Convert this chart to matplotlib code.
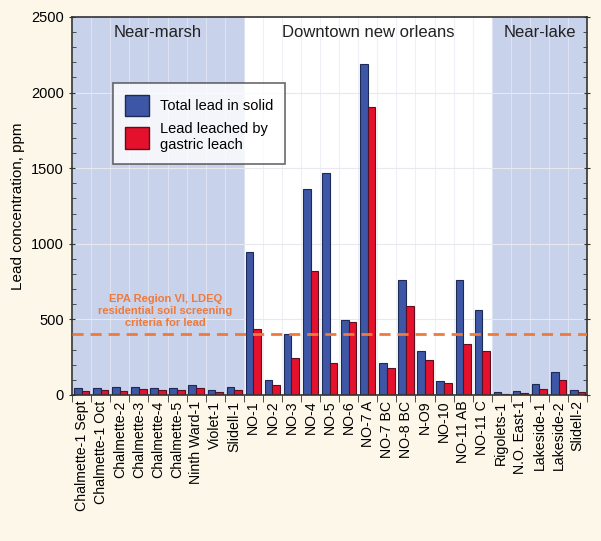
import numpy as np
import matplotlib.pyplot as plt
from matplotlib.patches import Patch

plt.rcParams['font.family'] = ['Liberation Sans', 'DejaVu Sans']

sites = ['Chalmette-1 Sept', 'Chalmette-1 Oct', 'Chalmette-2', 'Chalmette-3',
         'Chalmette-4', 'Chalmette-5', 'Ninth Ward-1', 'Violet-1', 'Slidell-1',
         'NO-1', 'NO-2', 'NO-3', 'NO-4', 'NO-5', 'NO-6', 'NO-7 A', 'NO-7 BC',
         'NO-8 BC', 'N-O9', 'NO-10', 'NO-11 AB', 'NO-11 C',
         'Rigolets-1', 'N.O. East-1', 'Lakeside-1', 'Lakeside-2', 'Slidell-2']
total = [45, 45, 55, 55, 45, 45, 65, 35, 55,
         943, 101, 403, 1360, 1470, 498, 2190, 212, 763, 293, 95, 763, 564,
         22, 29, 75, 152, 35]
leached = [25, 35, 25, 38, 35, 30, 48, 18, 35,
           438, 68, 242, 822, 212, 483, 1905, 179, 586, 233, 81, 337, 293,
           9, 15, 40, 99, 20]
zones = ['Near-marsh', 'Downtown new orleans', 'Near-lake']
zone_sizes = [9, 13, 5]
epa_limit = 400

fig = plt.figure(figsize=(6.01, 5.41), dpi=100, facecolor='#fcf7e8')
ax = fig.add_axes([0.12, 0.27, 0.857, 0.6986])

x = np.arange(len(sites))
w = 0.4
blue = '#3d57a6'
red = '#e5102c'

# shaded zones
n1 = zone_sizes[0]
n2 = n1 + zone_sizes[1]
ax.axvspan(-0.5, n1 - 0.5, color='#c8d2ea', zorder=0, lw=0)
ax.axvspan(n2 - 0.5, len(sites) - 0.5, color='#c8d2ea', zorder=0, lw=0)
for b in np.arange(-0.5, len(sites), 1.0):
    c = '#eef0f6' if n1 - 0.5 < b < n2 - 0.5 else '#dde3f2'
    ax.axvline(b, color=c, lw=0.8, zorder=0.5)
for yv in range(500, 2500, 500):
    ax.axhline(yv, color='#e8e8ee', lw=0.8, zorder=0.5)

ax.bar(x - w / 2, total, w, color=blue, edgecolor='#1c2a55', lw=0.8, zorder=2)
ax.bar(x + w / 2, leached, w, color=red, edgecolor='#5a1020', lw=0.8, zorder=2)

ax.axhline(epa_limit, color='#ee7a3c', lw=2, ls=(0, (4, 2.5)), zorder=3)
ax.text(4.4, 555, 'EPA Region VI, LDEQ\nresidential soil screening\ncriteria for lead',
        ha='center', va='center', color='#ee7a3c', fontsize=8, fontweight='bold',
        linespacing=1.3, zorder=3)

centers = [(n1 - 1) / 2, (n1 + n2 - 1) / 2, (n2 + len(sites) - 1) / 2]
for cx, z in zip(centers, zones):
    ax.text(cx, 2395, z, ha='center', va='center', fontsize=12, color='#222222')

ax.set_xlim(-0.5, len(sites) - 0.5)
ax.set_ylim(0, 2500)
ax.set_xticks(x)
ax.set_xticklabels(sites, rotation=90, fontsize=10.2)
ax.set_xticks(np.arange(-0.5, len(sites), 1.0), minor=True)
ax.tick_params(axis='x', which='major', length=0, pad=4)
ax.tick_params(axis='x', which='minor', length=5, direction='out', color='#333333')
ax.set_yticks(range(0, 2501, 500))
ax.set_yticks(range(0, 2501, 100), minor=True)
ax.tick_params(axis='y', which='major', length=5, direction='inout', labelsize=10.5,
               right=True, color='#333333')
ax.tick_params(axis='y', which='minor', length=3, direction='in', right=True,
               color='#333333')
ax.set_ylabel('Lead concentration, ppm', fontsize=11)
for s in ax.spines.values():
    s.set_color('#333333')
    s.set_linewidth(1.2)

handles = [Patch(facecolor=blue, edgecolor='#1c2a55'),
           Patch(facecolor=red, edgecolor='#5a1020')]
leg = ax.legend(handles, ['Total lead in solid', 'Lead leached by\ngastric leach'],
                loc='upper left', bbox_to_anchor=(0.065, 0.845), fontsize=10.5,
                frameon=True, fancybox=False, edgecolor='#444444',
                handlelength=1.7, handleheight=1.9, borderpad=0.8, labelspacing=0.4,
                handletextpad=0.7)
leg.get_frame().set_linewidth(1.2)
leg.set_zorder(5)

fig.savefig('out.png', dpi=100, facecolor=fig.get_facecolor())
